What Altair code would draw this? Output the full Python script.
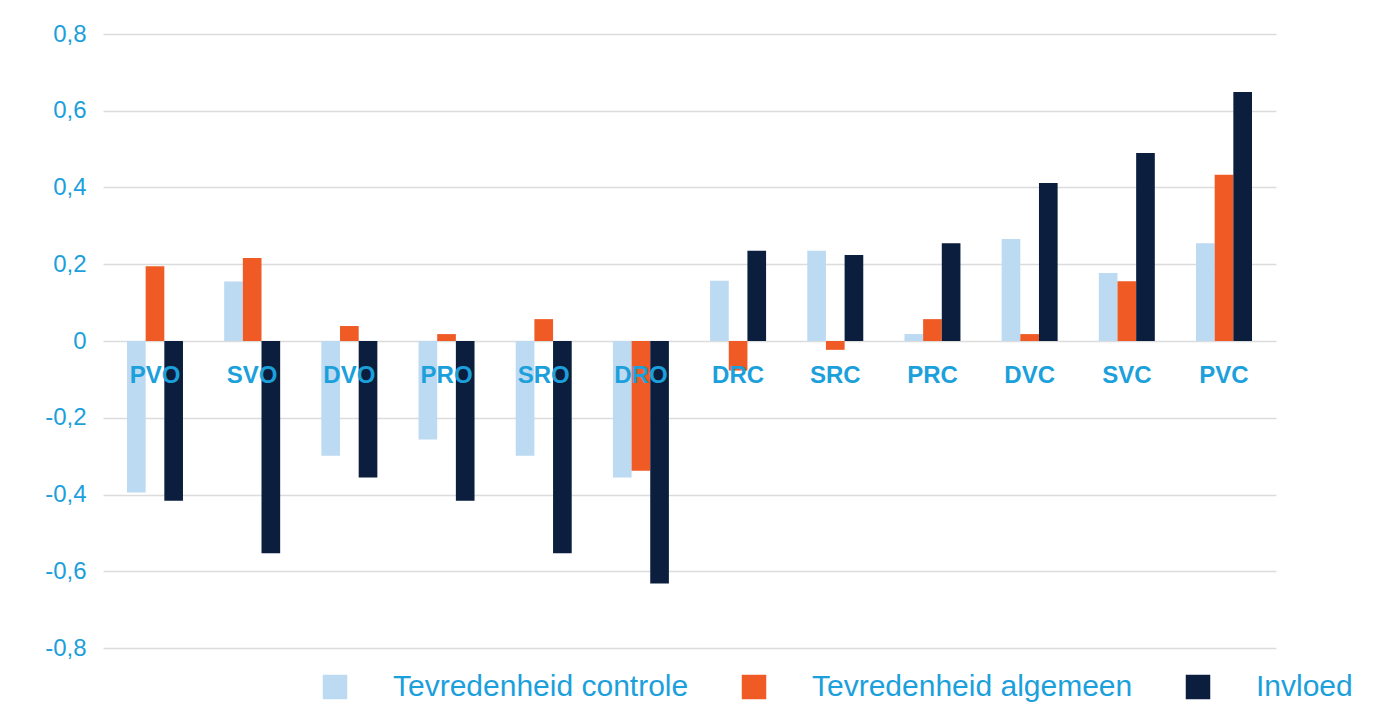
import altair as alt
import pandas as pd

categories = ["PVO", "SVO", "DVO", "PRO", "SRO", "DRO", "DRC", "SRC", "PRC", "DVC", "SVC", "PVC"]
controle = [-0.395, 0.155, -0.299, -0.257, -0.299, -0.356, 0.157, 0.235, 0.018, 0.266, 0.177, 0.255]
algemeen = [0.195, 0.216, 0.039, 0.018, 0.057, -0.338, -0.077, -0.023, 0.057, 0.018, 0.156, 0.433]
invloed = [-0.416, -0.553, -0.356, -0.416, -0.553, -0.632, 0.235, 0.224, 0.255, 0.412, 0.490, 0.649]
series = ["Tevredenheid controle", "Tevredenheid algemeen", "Invloed"]
colors = ["#bcdaf2", "#ef5a25", "#0b1e3d"]
y_ticks = [-0.8, -0.6, -0.4, -0.2, 0, 0.2, 0.4, 0.6, 0.8]

rows = []
for s, vals in zip(series, [controle, algemeen, invloed]):
    for c, v in zip(categories, vals):
        rows.append({"cat": c, "series": s, "value": v})
df = pd.DataFrame(rows)
cat_df = pd.DataFrame({"cat": categories})

BLUE = "#1ba0dc"
FONT = "Liberation Sans"

x_enc = alt.X("cat:N", sort=categories,
              scale=alt.Scale(paddingInner=0.424, paddingOuter=0.247), axis=None)

label_expr = ("datum.value == 0 ? '0' : replace(replace(format(datum.value, '.1f'), '.', ','), '\u2212', '-')")

bars = alt.Chart(df).mark_bar().encode(
    x=x_enc,
    xOffset=alt.XOffset("series:N", sort=series, scale=alt.Scale(paddingInner=0, paddingOuter=0)),
    y=alt.Y("value:Q", scale=alt.Scale(domain=[-0.8, 0.8], nice=False),
            axis=alt.Axis(values=y_ticks, title=None, domain=False, ticks=False,
                          labelExpr=label_expr, labelFont=FONT, labelFontSize=24,
                          labelColor=BLUE, labelPadding=17,
                          gridColor="#dcdcdc", gridWidth=1.5)),
    color=alt.Color("series:N", sort=series,
                    scale=alt.Scale(domain=series, range=colors),
                    legend=alt.Legend(orient="none", legendX=217, legendY=638,
                                      direction="horizontal", title=None,
                                      symbolType="square", symbolSize=600,
                                      symbolStrokeWidth=0,
                                      labelFont=FONT, labelFontSize=30,
                                      labelColor=BLUE, labelOffset=43,
                                      columnPadding=50, labelLimit=0)),
)

labels = alt.Chart(cat_df).mark_text(
    font=FONT, fontSize=24, fontWeight="bold", color=BLUE, baseline="middle", align="center"
).encode(
    x=x_enc,
    y=alt.datum(-0.09),
    text="cat:N",
)

chart = alt.layer(bars, labels).properties(
    width=1173, height=614,
    autosize=alt.AutoSizeParams(type="none"),
    padding={"left": 95, "top": 26, "right": 105, "bottom": 62},
).configure_view(stroke=None)

chart.save("out.html", embed_options={"renderer": "svg", "actions": False})
